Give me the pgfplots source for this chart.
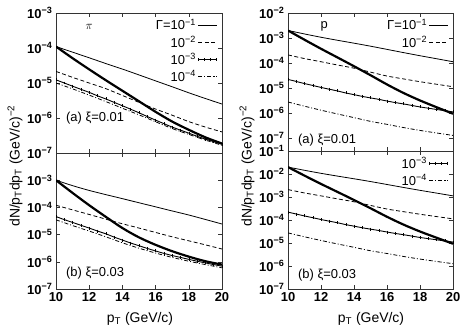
\documentclass[border=0pt]{standalone}
\usepackage{fontspec}
\setmainfont{Liberation Sans}
\usepackage{pgfplots}
\pgfplotsset{compat=1.18}

\newcommand\dec[1]{\textbf{10}\textsuperscript{\textbf{−#1}}}
\newcommand\tk{\fontsize{13}{13}\selectfont}

\tikzset{
  g1/.style={black, line width=0.8pt, smooth, no marks},
  g2/.style={black, line width=0.8pt, smooth, no marks, dash pattern=on 4pt off 2.5pt},
  g3/.style={black, line width=0.9pt, smooth, mark=|, mark size=1.5pt, mark options={solid, line width=0.5pt}},
  g4/.style={black, line width=0.8pt, smooth, no marks, dash pattern=on 4pt off 2pt on 1pt off 2pt},
  hv/.style={black, line width=2.2pt, smooth, no marks},
}
\pgfplotsset{
  panel/.style={
    scale only axis, width=166bp,
    xmin=10, xmax=20,
    xtick={10,12,...,20}, yminorticks=false,
    axis line style={line width=0.6pt, black!80},
    every tick/.style={black!80, line width=0.5pt},
    tick label style={font=\tk\bfseries},
    legend style={draw=none, fill=none, font=\tk, inner sep=0pt,
      row sep=1pt, at={(0.97,0.97)}, anchor=north east},
    legend cell align=right, legend plot pos=right,
    legend image code/.code={\draw[##1] plot coordinates {(0bp,0bp)(6bp,0bp)(12bp,0bp)(18bp,0bp)};},
  },
}

\begin{document}
\begin{tikzpicture}
\useasboundingbox (0,0) rectangle (463bp,332bp);

% ---- pi, xi = 0.01
\begin{axis}[ymode=log, panel, /pgf/number format/assume math mode=true,
  at={(56bp,179bp)}, anchor=south west, height=140bp,
  ymin=1e-7, ymax=1e-3, xticklabels={},
  ytick={1e-7,1e-6,1e-5,1e-4,1e-3}, yticklabels={\dec7,\dec6,\dec5,\dec4,\dec3}]
\addplot[g1] coordinates {(10,1.1e-4)(11,7.6e-5)(12,5.25e-5)(13,3.6e-5)(14,2.5e-5)(15,1.7e-5)(16,1.15e-5)(17,7.8e-6)(18,5.25e-6)(19,3.6e-6)(20,2.5e-6)};
\addlegendentry{Γ=10\textsuperscript{−1}}
\addplot[g2] coordinates {(10,2.14e-5)(11,1.45e-5)(12,1.0e-5)(13,6.9e-6)(14,4.4e-6)(15,2.8e-6)(16,1.8e-6)(17,1.2e-6)(18,7.9e-7)(19,5.5e-7)(20,4.0e-7)};
\addlegendentry{10\textsuperscript{−2}}
\addplot[g3] coordinates {(10,1.23e-5)(10.5,1.0e-5)(11,8.1e-6)(11.5,6.6e-6)(12,5.4e-6)(12.5,4.3e-6)(13,3.5e-6)(13.5,2.8e-6)(14,2.24e-6)(14.5,1.78e-6)(15,1.41e-6)(15.5,1.1e-6)(16,8.7e-7)(16.5,6.9e-7)(17,5.5e-7)(17.5,4.5e-7)(18,3.7e-7)(18.5,3.0e-7)(19,2.5e-7)(19.5,2.1e-7)(20,1.78e-7)};
\addlegendentry{10\textsuperscript{−3}}
\addplot[g4] coordinates {(10,1.0e-5)(11,6.8e-6)(12,4.5e-6)(13,2.95e-6)(14,1.9e-6)(15,1.23e-6)(16,7.8e-7)(17,5.0e-7)(18,3.4e-7)(19,2.34e-7)(20,1.66e-7)};
\addlegendentry{10\textsuperscript{−4}}
\addplot[hv, forget plot] coordinates {(10,1.1e-4)(11,5.1e-5)(12,2.45e-5)(13,1.2e-5)(14,6.0e-6)(15,3.0e-6)(16,1.5e-6)(17,7.9e-7)(18,4.6e-7)(19,2.8e-7)(20,1.86e-7)};
\node[font=\tk] at (axis description cs:0.2,0.9) {$\pi$};
\node[font=\tk, anchor=west] at (axis description cs:0.04,0.25) {(a) ξ=0.01};
\end{axis}

% ---- pi, xi = 0.03
\begin{axis}[ymode=log, panel, /pgf/number format/assume math mode=true,
  at={(56bp,43bp)}, anchor=south west, height=136bp,
  ymin=1e-7, ymax=1e-2,
  ytick={1e-7,1e-6,1e-5,1e-4,1e-3}, yticklabels={\dec7,\dec6,\dec5,\dec4,\dec3}]
\addplot[g1, forget plot] coordinates {(10,1.0e-3)(11,6.3e-4)(12,4.2e-4)(13,2.95e-4)(14,2.1e-4)(15,1.48e-4)(16,1.05e-4)(17,7.4e-5)(18,5.25e-5)(19,3.6e-5)(20,2.45e-5)};
\addplot[g2, forget plot] coordinates {(10,1.2e-4)(11,8.1e-5)(12,5.5e-5)(13,3.7e-5)(14,2.5e-5)(15,1.74e-5)(16,1.2e-5)(17,8.3e-6)(18,5.9e-6)(19,4.2e-6)(20,2.95e-6)};
\addplot[g3, forget plot] coordinates {(10,4.6e-5)(10.5,3.55e-5)(11,2.8e-5)(11.5,2.2e-5)(12,1.74e-5)(12.5,1.35e-5)(13,1.07e-5)(13.5,8.1e-6)(14,6.3e-6)(14.5,4.9e-6)(15,3.9e-6)(15.5,3.1e-6)(16,2.5e-6)(16.5,2.04e-6)(17,1.7e-6)(17.5,1.45e-6)(18,1.23e-6)(18.5,1.05e-6)(19,9.1e-7)(19.5,7.9e-7)(20,6.9e-7)};
\addplot[g4, forget plot] coordinates {(10,3.5e-5)(11,2.14e-5)(12,1.35e-5)(13,8.3e-6)(14,5.0e-6)(15,3.16e-6)(16,2.1e-6)(17,1.45e-6)(18,1.05e-6)(19,7.9e-7)(20,6.0e-7)};
\addplot[hv, forget plot] coordinates {(10,1.0e-3)(11,3.4e-4)(12,1.2e-4)(13,4.5e-5)(14,1.74e-5)(15,7.9e-6)(16,4.2e-6)(17,2.45e-6)(18,1.55e-6)(19,1.05e-6)(20,7.9e-7)};
\node[font=\tk, anchor=west] at (axis description cs:0.04,0.12) {(b) ξ=0.03};
\end{axis}

% ---- p, xi = 0.01
\begin{axis}[ymode=log, panel, /pgf/number format/assume math mode=true,
  at={(288bp,181bp)}, anchor=south west, width=165bp, height=138bp,
  ymin=3e-8, ymax=1e-2, xticklabels={},
  ytick={1e-7,1e-6,1e-5,1e-4,1e-3,1e-2}, yticklabels={\dec7,\dec6,\dec5,\dec4,\dec3,\dec2}]
\addplot[g1] coordinates {(10,2.0e-3)(11,1.45e-3)(12,1.07e-3)(13,8.1e-4)(14,6.2e-4)(15,4.7e-4)(16,3.5e-4)(17,2.6e-4)(18,1.95e-4)(19,1.48e-4)(20,1.12e-4)};
\addlegendentry{Γ=10\textsuperscript{−1}}
\addplot[g2] coordinates {(10,2.1e-4)(11,1.5e-4)(12,1.12e-4)(13,8.3e-5)(14,6.2e-5)(15,4.3e-5)(16,3.0e-5)(17,2.3e-5)(18,1.78e-5)(19,1.41e-5)(20,1.12e-5)};
\addlegendentry{10\textsuperscript{−2}}
\addplot[g3, forget plot] coordinates {(10,2.2e-5)(10.5,1.82e-5)(11,1.5e-5)(11.5,1.26e-5)(12,1.05e-5)(12.5,8.9e-6)(13,7.6e-6)(13.5,6.3e-6)(14,5.4e-6)(14.5,4.6e-6)(15,4.0e-6)(15.5,3.5e-6)(16,3.0e-6)(16.5,2.6e-6)(17,2.3e-6)(17.5,2.0e-6)(18,1.74e-6)(18.5,1.55e-6)(19,1.38e-6)(19.5,1.23e-6)(20,1.1e-6)};
\addplot[g4, forget plot] coordinates {(10,2.75e-6)(11,1.86e-6)(12,1.29e-6)(13,9.1e-7)(14,6.5e-7)(15,4.6e-7)(16,3.5e-7)(17,2.6e-7)(18,2.0e-7)(19,1.58e-7)(20,1.26e-7)};
\addplot[hv, forget plot] coordinates {(10,2.0e-3)(11,8.5e-4)(12,3.7e-4)(13,1.66e-4)(14,7.4e-5)(15,3.24e-5)(16,1.38e-5)(17,6.3e-6)(18,3.16e-6)(19,1.7e-6)(20,9.3e-7)};
\node[font=\tk] at (axis description cs:0.22,0.9) {p};
\node[font=\tk, anchor=west] at (axis description cs:0.04,0.08) {(a) ξ=0.01};
\end{axis}

% ---- p, xi = 0.03
\begin{axis}[ymode=log, panel, /pgf/number format/assume math mode=true,
  at={(288bp,43bp)}, anchor=south west, width=165bp, height=138bp,
  ymin=1e-7, ymax=1e-1,
  ytick={1e-7,1e-6,1e-5,1e-4,1e-3,1e-2,1e-1}, yticklabels={\dec7,\dec6,\dec5,\dec4,\dec3,\dec2,\dec1}]
\addplot[g1, forget plot] coordinates {(10,2.0e-2)(11,1.45e-2)(12,1.07e-2)(13,8.1e-3)(14,6.2e-3)(15,4.7e-3)(16,3.5e-3)(17,2.6e-3)(18,1.95e-3)(19,1.48e-3)(20,1.12e-3)};
\addplot[g2, forget plot] coordinates {(10,2.1e-3)(11,1.5e-3)(12,1.12e-3)(13,8.3e-4)(14,6.2e-4)(15,4.3e-4)(16,3.0e-4)(17,2.3e-4)(18,1.78e-4)(19,1.41e-4)(20,1.12e-4)};
\addplot[g3] coordinates {(10,2.2e-4)(10.5,1.82e-4)(11,1.5e-4)(11.5,1.26e-4)(12,1.05e-4)(12.5,8.9e-5)(13,7.6e-5)(13.5,6.3e-5)(14,5.4e-5)(14.5,4.6e-5)(15,4.0e-5)(15.5,3.5e-5)(16,3.0e-5)(16.5,2.6e-5)(17,2.3e-5)(17.5,2.0e-5)(18,1.74e-5)(18.5,1.55e-5)(19,1.38e-5)(19.5,1.23e-5)(20,1.1e-5)};
\addlegendentry{10\textsuperscript{−3}}
\addplot[g4] coordinates {(10,2.75e-5)(11,1.86e-5)(12,1.29e-5)(13,9.1e-6)(14,6.5e-6)(15,4.6e-6)(16,3.5e-6)(17,2.6e-6)(18,2.0e-6)(19,1.58e-6)(20,1.26e-6)};
\addlegendentry{10\textsuperscript{−4}}
\addplot[hv, forget plot] coordinates {(10,2.0e-2)(11,8.5e-3)(12,3.7e-3)(13,1.66e-3)(14,7.4e-4)(15,3.24e-4)(16,1.38e-4)(17,6.3e-5)(18,3.16e-5)(19,1.7e-5)(20,9.3e-6)};
\node[font=\tk, anchor=west] at (axis description cs:0.04,0.1) {(b) ξ=0.03};
\end{axis}

\node[rotate=90, font=\fontsize{14}{14}\selectfont] at (15bp,166bp) {dN/p\textsubscript{T}dp\textsubscript{T} (GeV/c)\textsuperscript{−2}};
\node[rotate=90, font=\fontsize{14}{14}\selectfont] at (247bp,166bp) {dN/p\textsubscript{T}dp\textsubscript{T} (GeV/c)\textsuperscript{−2}};
\node[font=\fontsize{14}{14}\selectfont] at (140bp,13bp) {p\textsubscript{T} (GeV/c)};
\node[font=\fontsize{14}{14}\selectfont] at (371bp,13bp) {p\textsubscript{T} (GeV/c)};
\end{tikzpicture}
\end{document}
